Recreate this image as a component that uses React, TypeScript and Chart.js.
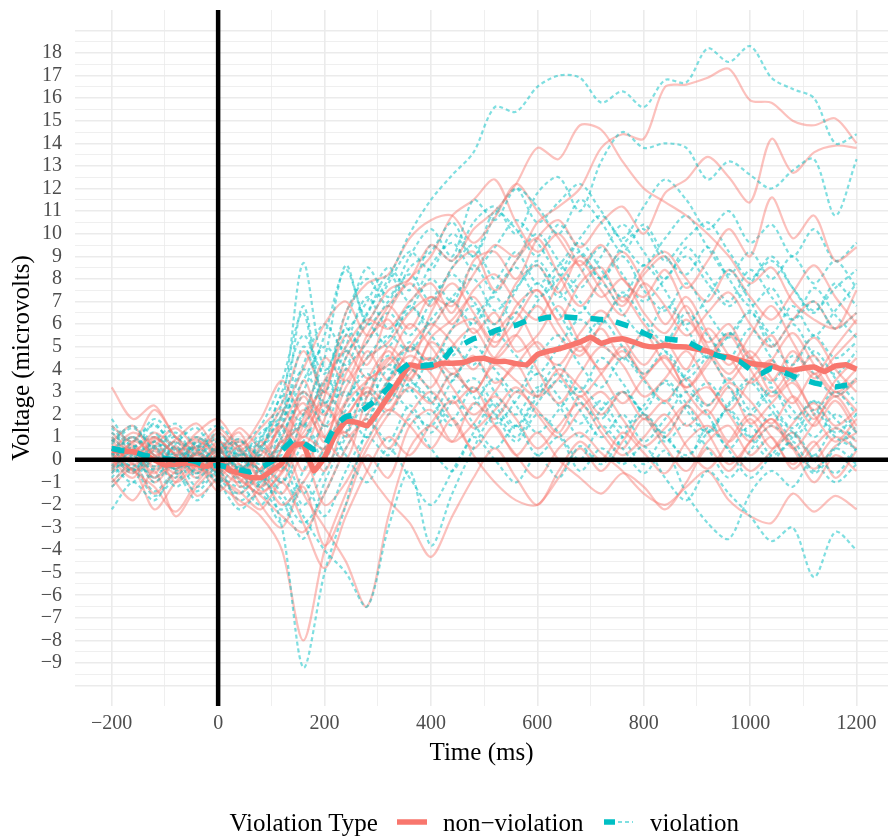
import React, { useEffect, useRef } from "react";
import { Chart, registerables } from "chart.js";
Chart.register(...registerables);

// ---------- DATA ----------
const TIME = [-200, -160, -120, -80, -40, 0, 40, 80, 120, 160, 200, 240, 280, 320, 360, 400, 440, 480, 520, 560, 600, 640, 680, 720, 760, 800, 840, 880, 920, 960, 1000, 1040, 1080, 1120, 1160, 1200];

const TIME_MEAN = [-200, -180, -160, -140, -120, -100, -80, -60, -40, -20, 0, 20, 40, 60, 80, 100, 120, 140, 160, 180, 200, 220, 240, 260, 280, 300, 320, 340, 360, 380, 400, 420, 440, 460, 480, 500, 520, 540, 560, 580, 600, 620, 640, 660, 680, 700, 720, 740, 760, 780, 800, 820, 840, 860, 880, 900, 920, 940, 960, 980, 1000, 1020, 1040, 1060, 1080, 1100, 1120, 1140, 1160, 1180, 1200];

const MEAN_NONVIOLATION = [0.42, 0.38, 0.35, 0.2, 0.0, -0.24, -0.2, -0.15, -0.2, -0.3, -0.05, -0.45, -0.6, -0.78, -0.8, -0.5, -0.15, 0.6, 0.7, -0.5, 0.1, 1.1, 1.7, 1.65, 1.5, 2.1, 2.8, 3.5, 4.2, 4.1, 4.1, 4.27, 4.27, 4.3, 4.45, 4.49, 4.35, 4.35, 4.25, 4.2, 4.65, 4.8, 4.9, 5.05, 5.2, 5.42, 5.15, 5.3, 5.35, 5.21, 5.05, 4.99, 5.06, 5.0, 4.99, 4.9, 4.8, 4.6, 4.55, 4.4, 4.27, 4.2, 4.15, 4.0, 3.96, 4.05, 4.1, 3.9, 4.15, 4.2, 4.0];

const MEAN_VIOLATION = [0.5, 0.4, 0.35, 0.2, 0.1, 0.05, 0.0, 0.0, -0.1, -0.3, -0.24, -0.35, -0.45, -0.54, -0.35, -0.1, 0.4, 0.86, 0.75, 0.45, 0.6, 1.5, 1.9, 2.0, 2.34, 2.7, 3.2, 3.9, 4.27, 4.15, 4.2, 4.33, 4.9, 5.1, 5.35, 5.5, 5.7, 5.85, 5.95, 6.15, 6.2, 6.3, 6.32, 6.3, 6.27, 6.25, 6.2, 6.15, 6.0, 5.85, 5.6, 5.4, 5.35, 5.3, 5.25, 5.0, 4.77, 4.6, 4.45, 4.35, 4.0, 3.8, 4.05, 3.9, 3.7, 3.55, 3.4, 3.3, 3.22, 3.3, 3.38];

// individual participants, non-violation
const NV_S01 = [1.0, 0.3, 1.2, 0.5, -0.3, 0.4, -0.5, 0.2, 1.5, 3.0, 2.0, 4.5, 6.0, 7.5, 8.0, 9.5, 8.8, 10.2, 11.0, 12.2, 13.8, 13.3, 14.8, 14.6, 13.2, 12.0, 11.4, 10.8, 10.0, 9.0, 7.8, 8.5, 7.0, 6.2, 5.8, 6.5];
const NV_S02 = [-0.5, 0.8, 0.2, -0.6, 0.3, -0.2, 0.6, -0.8, 0.5, 2.2, 1.0, 3.2, 4.5, 5.2, 6.5, 7.2, 6.8, 8.2, 9.5, 9.0, 10.5, 11.2, 12.0, 13.8, 14.4, 14.2, 16.5, 16.6, 16.9, 17.3, 15.9, 15.8, 15.0, 14.8, 15.1, 14.0];
const NV_S03 = [0.5, -0.4, 0.9, 0.2, -0.8, 0.6, -1.2, -0.4, 0.8, 1.6, 3.5, 5.0, 6.2, 5.8, 7.0, 7.8, 6.5, 8.8, 9.2, 8.0, 9.8, 10.6, 9.4, 10.5, 11.2, 10.0, 11.8, 12.4, 13.4, 12.5, 11.4, 14.2, 12.7, 13.6, 13.9, 13.8];
const NV_S04 = [1.5, 0.8, 2.2, 1.0, 0.2, 1.2, 0.4, 1.4, 2.5, 4.8, 3.0, 6.5, 7.8, 8.2, 9.8, 10.6, 10.8, 9.6, 10.7, 12.2, 11.0, 9.8, 8.6, 9.5, 8.0, 7.2, 8.4, 6.6, 5.2, 6.0, 4.5, 5.5, 3.8, 4.6, 3.2, 4.0];
const NV_S05 = [-0.3, 0.5, -0.8, 0.1, 0.9, 0.0, -0.8, -1.5, -0.5, 1.0, 0.5, 2.5, 3.5, 4.2, 5.0, 4.4, 5.8, 6.2, 5.0, 6.8, 7.5, 6.2, 7.8, 8.5, 7.0, 8.2, 9.0, 7.6, 8.8, 10.2, 9.0, 11.6, 9.8, 10.8, 8.8, 9.4];
const NV_S06 = [0.2, -0.6, 0.4, -1.0, -0.3, -1.1, -1.8, -2.5, -4.0, -8.0, -4.0, -1.5, 0.5, 2.0, 3.2, 2.5, 3.8, 3.0, 4.2, 3.5, 2.8, 4.0, 3.2, 2.0, 3.0, 1.8, 2.6, 1.5, 2.2, 0.8, 1.8, 0.5, 1.2, 0.0, 1.0, 0.5];
const NV_S07 = [0.8, 1.5, 0.2, 0.9, 1.6, 0.5, 1.2, -0.5, 0.8, -1.5, -3.0, -4.5, -6.5, -2.5, 0.5, 1.5, 0.8, 2.5, 1.8, 3.0, 2.2, 1.2, 2.8, 1.5, 0.5, 1.8, 0.6, -0.5, 0.8, 1.5, 0.2, 1.0, -0.4, 0.6, 1.4, 0.8];
const NV_S08 = [-1.0, -0.2, -1.5, -0.5, 0.2, -0.6, -1.5, -0.8, -2.0, -1.0, 0.5, 1.2, -0.5, -1.8, -2.8, -4.3, -2.5, -0.8, 0.5, -0.8, -2.0, -0.5, 0.8, 0.0, 1.2, 0.3, -0.6, 0.8, 1.5, 0.6, -0.5, 0.4, 1.6, 2.5, 1.5, 2.2];
const NV_S09 = [0.3, -0.5, -1.2, -2.3, -1.0, -0.2, -0.9, -1.6, -2.5, -3.2, -1.5, 0.5, 2.0, 3.5, 4.6, 3.8, 2.5, 3.2, 1.5, 0.2, -0.8, 0.5, 1.2, 0.3, -0.5, -1.5, -2.0, -1.2, -0.5, -1.8, -2.5, -2.8, -1.5, -2.3, -1.6, -2.2];
const NV_S10 = [3.2, 1.8, 2.4, 1.0, 0.5, 1.4, 0.6, 1.8, 3.5, 2.0, 4.5, 3.5, 5.5, 6.8, 5.8, 7.2, 6.0, 7.5, 8.2, 7.0, 6.2, 7.8, 8.8, 7.5, 6.4, 7.8, 6.8, 5.5, 6.5, 7.4, 6.0, 5.0, 6.2, 7.0, 5.8, 7.5];
const NV_S11 = [-0.8, -1.8, -0.5, -2.5, -1.2, -0.4, -2.0, -1.2, 0.5, 2.8, 1.0, 0.0, 2.8, 4.5, 3.5, 5.2, 4.2, 3.0, 4.5, 5.5, 4.0, 2.5, 3.8, 5.0, 4.2, 2.8, 3.6, 4.8, 3.4, 2.2, 3.5, 4.4, 2.8, 1.5, 2.6, 1.2];
const NV_S12 = [0.0, 0.7, -0.3, 0.5, -0.5, 0.2, 0.8, 0.0, 1.5, 0.5, 2.8, 5.5, 4.2, 6.5, 7.8, 6.8, 8.5, 9.2, 7.5, 8.8, 9.8, 8.2, 6.8, 8.0, 9.2, 7.8, 6.0, 7.2, 5.6, 4.2, 5.5, 6.8, 5.2, 3.8, 5.0, 6.2];
const NV_S13 = [1.2, 0.4, 1.0, 0.3, 1.2, 1.8, 0.5, -0.5, -1.5, 0.2, -2.0, -1.0, 0.8, 2.2, 1.5, 0.5, 1.8, 0.2, -1.0, -1.8, -2.0, -0.8, 0.5, -0.5, 0.8, 2.0, 1.0, 2.5, 3.2, 2.0, 0.8, 1.5, 0.5, -1.0, 0.2, -0.5];
const NV_S14 = [0.6, 0.0, 0.8, -0.2, 0.6, -0.3, -1.0, 0.4, -0.5, 1.8, 3.0, 2.0, 3.2, 2.5, 4.0, 3.2, 5.0, 5.8, 4.5, 5.5, 6.8, 5.5, 4.6, 6.0, 7.2, 6.0, 5.0, 6.2, 4.8, 3.5, 4.5, 3.0, 4.2, 5.4, 4.0, 3.0];
const NV_S15 = [-0.4, 0.4, -0.6, 0.6, -0.4, 0.8, -0.2, -1.2, -0.2, 1.2, 2.4, 1.0, 1.8, 0.5, 2.0, 3.0, 1.8, 0.5, 1.5, 0.2, 1.2, 0.0, -0.8, -1.5, -0.6, -1.2, -2.2, -1.0, 0.5, -0.5, 0.8, 1.8, 0.5, 1.6, 2.8, 1.5];
const NV_S16 = [0.2, 1.0, 0.0, -0.8, 0.4, -0.6, 0.3, -0.4, 2.0, 4.0, 6.0, 7.0, 5.5, 6.2, 4.8, 5.8, 7.0, 5.6, 6.5, 4.8, 5.5, 6.8, 5.2, 4.0, 5.0, 3.8, 4.6, 3.2, 4.2, 5.5, 4.0, 2.8, 3.6, 2.2, 3.5, 4.5];
const NV_S17 = [0.9, -0.2, 0.6, 1.4, 0.4, -0.5, 0.2, -0.8, 1.0, 2.5, 0.8, 3.8, 5.2, 6.8, 8.0, 9.0, 10.8, 11.5, 12.4, 10.5, 9.2, 10.0, 8.5, 7.2, 8.0, 6.5, 5.6, 6.8, 5.0, 3.8, 4.8, 3.6, 2.5, 3.8, 2.8, 3.5];
const NV_S18 = [-0.6, 0.2, -1.0, -0.2, -1.6, -0.8, -0.2, -1.4, -0.6, 0.8, -0.5, 1.8, 3.0, 2.2, 3.8, 4.5, 3.2, 2.0, 3.0, 4.2, 2.8, 3.6, 5.0, 3.8, 2.5, 3.6, 4.5, 3.0, 2.0, 3.2, 1.6, 2.5, 3.4, 2.0, 0.8, 1.8];
const NV_S19 = [0.4, 1.2, 0.6, -0.4, 0.8, 0.2, -0.6, 0.8, -0.3, 3.5, 1.5, 2.6, 4.8, 3.5, 5.0, 6.0, 5.2, 4.0, 5.5, 6.5, 5.0, 4.2, 5.6, 6.6, 5.4, 4.2, 5.2, 4.0, 5.8, 4.6, 3.4, 4.4, 5.6, 4.2, 3.0, 3.6];
const NV_S20 = [-1.2, -0.4, -2.2, -1.0, -0.2, -1.4, -0.6, -2.0, -3.0, -1.2, -3.8, -2.0, 0.2, -0.8, 1.5, 2.2, 0.8, 1.6, 2.8, 1.8, 0.5, 1.5, 2.5, 1.2, 0.2, 1.0, 2.0, 0.6, -0.4, 0.8, 2.0, 1.0, -0.2, 0.8, -0.8, 0.4];
const NV_S21 = [0.0, -0.8, 0.5, -0.4, 0.3, 0.9, -0.4, 0.6, 1.5, -0.5, 1.8, 4.0, 2.8, 5.0, 4.2, 6.5, 7.8, 6.5, 5.2, 6.2, 7.5, 6.0, 4.8, 5.8, 4.5, 5.6, 4.2, 3.2, 4.4, 5.6, 4.6, 3.5, 4.8, 3.6, 4.6, 5.6];
const NV_S22 = [0.7, -0.1, 1.0, 0.2, -0.6, 0.3, 0.9, 0.0, -1.0, 1.5, 2.5, 1.2, 3.5, 4.8, 3.6, 5.4, 6.2, 7.2, 6.0, 7.8, 8.6, 7.4, 9.0, 8.0, 6.8, 8.4, 9.2, 8.0, 7.0, 8.4, 7.2, 6.2, 7.4, 8.6, 7.2, 6.0];
const NV_S23 = [0.3, -0.5, 0.0, 0.8, -0.2, -0.8, -1.4, -2.2, -1.0, -2.8, -4.8, -2.5, -0.5, 1.0, 0.2, 1.6, 2.6, 1.4, 2.2, 3.2, 2.0, 1.0, 2.2, 3.0, 1.8, 0.6, 1.4, 2.4, 1.2, -0.2, 0.8, 1.8, 0.6, -0.4, 0.6, 1.2];
const NV_S24 = [-0.2, 0.6, -0.4, 0.2, 1.0, 0.4, 1.4, 0.6, 2.2, 1.0, 3.2, 4.8, 3.6, 4.4, 6.0, 5.0, 3.8, 4.6, 3.4, 4.2, 5.2, 3.8, 2.8, 3.8, 4.8, 3.6, 2.6, 3.6, 2.4, 3.4, 2.6, 1.6, 2.8, 1.8, 3.0, 2.2];

// individual participants, violation
const V_S01 = [0.8, 1.5, 0.5, 1.2, 0.2, 0.8, -0.5, 0.5, 2.0, 4.0, 2.5, 4.5, 6.5, 8.0, 10.0, 11.5, 12.6, 13.6, 15.6, 15.4, 16.5, 17.0, 16.9, 15.8, 16.3, 15.6, 16.8, 16.7, 18.2, 17.6, 18.3, 16.9, 16.4, 16.0, 14.0, 14.4];
const V_S02 = [-0.6, 0.4, -0.3, 0.6, -0.8, 0.2, 0.9, -0.5, 1.5, 5.0, 3.0, 5.5, 7.0, 8.5, 7.5, 9.5, 8.8, 10.5, 11.2, 10.0, 11.8, 12.5, 11.0, 13.2, 14.5, 13.8, 14.0, 13.8, 12.4, 13.2, 12.6, 12.0, 12.8, 13.3, 10.8, 13.3];
const V_S03 = [0.3, -0.5, 0.8, 0.0, 0.6, -0.4, 0.2, 1.0, 2.5, 8.7, 4.0, 6.0, 8.5, 7.2, 9.0, 10.2, 9.0, 11.5, 10.6, 12.0, 11.2, 10.0, 11.5, 10.5, 9.2, 10.4, 9.0, 8.2, 9.4, 8.0, 6.8, 7.6, 6.2, 7.0, 5.8, 6.5];
const V_S04 = [1.2, 0.5, 1.6, 0.4, 1.0, 0.2, -0.6, 0.6, -0.4, 2.0, 4.5, 8.6, 6.0, 7.0, 8.2, 7.0, 8.5, 9.5, 8.0, 9.2, 7.8, 8.6, 9.6, 8.4, 7.2, 8.6, 7.5, 6.0, 7.2, 8.4, 7.0, 5.6, 6.8, 5.5, 6.6, 7.8];
const V_S05 = [0.5, -0.3, 0.6, -0.5, 0.3, -0.8, -1.5, -0.6, -3.0, -9.2, -5.0, -2.0, 1.5, 3.5, 5.0, 4.2, 5.8, 6.8, 5.5, 6.5, 7.8, 6.5, 5.2, 6.2, 5.0, 3.8, 4.8, 3.5, 2.4, 3.6, 2.2, 3.2, 1.8, 2.6, 1.2, 2.0];
const V_S06 = [-0.8, 0.2, -1.0, 0.0, -1.2, -0.3, -1.0, -2.0, -0.8, -2.5, -4.0, -5.0, -6.5, -3.0, -0.5, -3.8, -1.5, 0.5, 2.0, 1.0, 2.5, 3.5, 2.2, 1.0, 2.0, 0.8, 1.8, 3.0, 2.0, 0.5, 1.5, 0.2, 1.0, 2.2, 1.0, 0.5];
const V_S07 = [-2.2, -1.0, -1.8, -0.6, -1.4, -0.5, -1.8, -1.0, 0.5, 1.5, 0.0, 2.5, 3.8, 2.6, 4.0, 3.0, 1.8, 3.2, 2.0, 0.8, 2.0, 1.2, 0.0, 1.5, 0.5, -0.6, 0.4, -1.5, -2.8, -3.5, -1.5, -0.5, -1.2, 0.2, -0.6, 0.5];
const V_S08 = [0.2, 1.0, 0.0, 0.8, -0.2, 0.6, 0.0, -1.0, 0.2, -1.5, 0.5, 2.0, 1.0, 3.0, 2.2, 1.5, 2.8, 1.6, 0.5, 1.5, 0.2, 1.0, -0.5, 0.5, -0.2, 0.6, -0.8, -1.8, -0.5, -1.5, -2.5, -3.6, -3.0, -5.2, -3.2, -4.0];
const V_S09 = [0.0, 0.8, 1.5, 0.5, -0.2, 0.5, -0.3, 0.8, 1.8, 3.5, 5.0, 4.2, 6.0, 5.0, 6.8, 5.5, 4.6, 6.2, 7.2, 6.0, 7.0, 8.2, 7.0, 6.0, 7.4, 6.2, 5.2, 6.5, 5.5, 4.5, 5.8, 4.5, 3.5, 4.8, 3.6, 2.5];
const V_S10 = [1.8, 0.6, 1.2, 0.0, 0.8, 1.5, 0.5, -0.5, 1.0, 3.0, 1.5, 3.5, 2.5, 4.0, 3.0, 4.5, 3.5, 5.0, 4.0, 3.0, 4.5, 5.5, 4.2, 3.2, 4.5, 3.5, 2.5, 3.8, 4.6, 3.2, 2.0, 3.0, 2.2, 1.0, 2.0, 1.2];
const V_S11 = [-0.4, 0.3, -0.8, 0.2, -0.6, 0.4, -0.4, 0.3, 2.8, 1.5, 3.5, 2.8, 4.5, 5.5, 4.8, 6.2, 7.0, 6.0, 7.5, 8.5, 7.2, 8.0, 9.2, 8.0, 9.5, 10.2, 8.8, 9.8, 10.5, 9.2, 8.0, 9.0, 7.6, 6.5, 7.8, 6.8];
const V_S12 = [0.6, -0.4, 0.2, -1.2, -0.4, -1.0, -2.2, -1.5, -2.8, -1.0, -2.5, -0.5, 1.0, 0.2, 1.8, 0.5, -0.5, 1.0, 0.0, -1.0, 0.2, -0.8, 0.6, -0.2, 1.0, 2.0, 1.0, 0.2, 1.2, 2.2, 1.0, 0.0, 0.8, -0.5, 0.5, -0.2];
const V_S13 = [0.9, 0.2, -0.4, 0.7, 1.4, 0.0, 0.6, 1.5, 3.5, 6.5, 2.0, 4.0, 5.2, 6.5, 5.5, 7.0, 8.2, 7.0, 6.0, 7.5, 8.8, 7.5, 6.5, 7.8, 6.5, 5.5, 6.8, 5.8, 4.5, 5.5, 6.5, 5.2, 4.2, 5.5, 4.5, 5.2];
const V_S14 = [-0.2, -1.0, 0.4, -0.4, 0.5, -0.6, 0.4, -0.8, -1.8, -3.5, -1.0, 1.0, 2.8, 4.2, 3.2, 2.0, 3.5, 4.5, 3.0, 2.0, 3.2, 2.4, 1.0, 2.2, 3.0, 2.0, 0.8, 1.6, 0.5, -0.8, 0.4, 1.5, 0.6, -0.6, 0.5, 1.5];
const V_S15 = [1.5, 0.8, 1.8, 1.0, 0.4, 1.2, 0.2, 0.9, 3.0, 5.5, 3.8, 6.5, 8.0, 6.8, 8.5, 9.2, 10.5, 9.0, 11.0, 10.2, 9.0, 10.4, 9.2, 8.0, 9.0, 7.5, 6.6, 7.8, 6.5, 5.4, 6.6, 5.0, 6.0, 4.6, 3.8, 4.8];
const V_S16 = [-1.2, -0.4, -1.6, -0.8, 0.0, -1.0, -0.3, -1.2, -2.2, -0.5, 1.5, 0.2, -1.0, 0.5, -0.8, -2.0, -0.5, 1.2, 2.5, 1.5, 3.0, 4.2, 3.0, 4.5, 3.4, 2.2, 3.5, 2.5, 1.2, 2.5, 3.6, 2.5, 1.4, 2.6, 1.8, 0.8];
const V_S17 = [0.4, 1.0, 0.2, -0.4, 0.6, 0.0, 0.8, 0.2, 1.2, 3.0, 5.5, 8.4, 6.2, 7.8, 9.2, 8.4, 10.0, 9.0, 10.8, 12.0, 10.5, 11.4, 12.2, 11.0, 9.8, 11.2, 12.4, 11.5, 10.2, 11.0, 9.6, 10.4, 9.0, 10.2, 8.8, 9.6];
const V_S18 = [-0.5, 0.1, -0.8, 0.4, -0.2, 0.5, -0.4, 0.2, -1.0, 0.8, 2.2, 3.0, 2.0, 3.6, 5.2, 4.0, 5.0, 4.2, 5.6, 4.6, 3.8, 5.0, 6.2, 5.2, 4.4, 5.6, 4.8, 3.6, 4.6, 5.6, 4.4, 3.4, 4.6, 3.8, 2.8, 3.6];
const V_S19 = [1.0, 0.3, 0.8, 1.6, 0.6, 0.9, 0.2, 1.2, 2.0, 6.8, 2.5, 5.0, 7.2, 5.8, 6.6, 8.0, 7.0, 8.6, 7.4, 8.8, 10.0, 8.8, 7.6, 9.0, 10.4, 9.2, 8.0, 9.4, 8.2, 7.0, 8.4, 7.2, 6.2, 7.6, 6.4, 5.4];
const V_S20 = [-1.0, -0.2, -1.4, -0.6, -1.8, -0.8, -1.2, -0.5, -1.5, -2.8, -1.5, 0.5, 1.8, 0.8, 2.4, 1.2, 2.6, 3.6, 2.4, 1.4, 2.8, 3.8, 2.6, 1.8, 3.0, 2.0, 1.2, 2.4, 3.4, 2.2, 1.0, 2.0, 1.2, 0.2, 1.4, 0.4];
const V_S21 = [0.2, -0.6, 0.6, 0.0, 0.8, -0.2, 0.4, -0.2, 0.8, 2.0, 3.4, 5.8, 4.6, 5.4, 6.8, 6.0, 7.2, 8.0, 6.6, 7.6, 8.6, 7.2, 8.2, 9.4, 8.2, 7.0, 8.0, 9.0, 7.8, 6.8, 7.8, 8.8, 7.6, 6.6, 7.6, 8.4];
const V_S22 = [0.7, 1.4, 0.5, 1.0, 0.0, 0.4, -0.6, -1.2, -0.2, -2.0, -0.5, 1.2, 3.0, 2.0, 3.4, 2.6, 1.5, 2.4, 3.6, 2.4, 1.2, 2.2, 3.2, 2.2, 1.0, -0.2, 1.0, 0.0, 1.4, 0.4, -0.8, 0.2, 1.2, 0.0, -1.0, -0.2];
const V_S23 = [-0.3, 0.5, -0.5, 0.3, -0.6, 0.2, -0.8, 0.5, 1.5, 4.2, 6.0, 4.8, 6.4, 8.2, 7.0, 8.6, 9.6, 8.4, 9.4, 10.6, 9.6, 8.4, 9.8, 10.8, 9.6, 8.6, 9.8, 10.8, 9.4, 8.2, 9.2, 8.0, 9.0, 7.8, 8.8, 7.6];
const V_S24 = [1.4, 0.6, 1.0, 0.2, 0.6, 1.0, 0.4, -0.4, 0.6, 1.6, 0.4, 2.2, 3.4, 4.6, 3.6, 2.6, 3.8, 2.8, 1.6, 2.6, 3.8, 2.8, 1.6, 2.6, 1.4, 2.4, 3.4, 2.2, 1.2, 2.4, 3.4, 2.2, 1.0, 2.0, 3.0, 2.0];

const NV_SUBJECTS = [NV_S01, NV_S02, NV_S03, NV_S04, NV_S05, NV_S06, NV_S07, NV_S08, NV_S09, NV_S10, NV_S11, NV_S12, NV_S13, NV_S14, NV_S15, NV_S16, NV_S17, NV_S18, NV_S19, NV_S20, NV_S21, NV_S22, NV_S23, NV_S24];
const V_SUBJECTS = [V_S01, V_S02, V_S03, V_S04, V_S05, V_S06, V_S07, V_S08, V_S09, V_S10, V_S11, V_S12, V_S13, V_S14, V_S15, V_S16, V_S17, V_S18, V_S19, V_S20, V_S21, V_S22, V_S23, V_S24];

const X_TICK_LABEL_STEP = 200;
const Y_LABEL_MIN = -9;
const Y_LABEL_MAX = 18;
const Y_GRID_MIN = -10;
const Y_GRID_MAX = 19;

// ---------- STYLE ----------
const RED = "#F8766D";
const CYAN = "#00BFC4";
const RED_FAINT = "rgba(248,118,109,0.45)";
const CYAN_FAINT = "rgba(0,191,196,0.5)";
const FONT = '"Liberation Serif", "Times New Roman", serif';

const fmt = (v: number) => (v < 0 ? "\u2212" + Math.abs(v) : String(v));
const toPoints = (xs: number[], ys: number[]) => xs.map((x, i) => ({ x, y: ys[i] }));

const zeroLines = {
  id: "zeroLines",
  afterDatasetsDraw(chart: any) {
    const { ctx, chartArea, scales } = chart;
    const x0 = scales.x.getPixelForValue(0);
    const y0 = scales.y.getPixelForValue(0);
    ctx.save();
    ctx.strokeStyle = "#000";
    ctx.lineWidth = 4.5;
    ctx.beginPath();
    ctx.moveTo(x0, chartArea.top);
    ctx.lineTo(x0, chartArea.bottom);
    ctx.moveTo(chartArea.left, y0);
    ctx.lineTo(chartArea.right, y0);
    ctx.stroke();
    ctx.restore();
  },
};

export default function App() {
  const ref = useRef<HTMLCanvasElement>(null);

  useEffect(() => {
    document.body.style.margin = "0";
    const datasets: any[] = [];
    datasets.push({
      label: "violation",
      data: toPoints(TIME_MEAN, MEAN_VIOLATION),
      borderColor: CYAN,
      borderWidth: 5.5,
      borderDash: [13, 13],
      pointRadius: 0,
      tension: 0.1,
      order: 0,
    });
    datasets.push({
      label: "non-violation",
      data: toPoints(TIME_MEAN, MEAN_NONVIOLATION),
      borderColor: RED,
      borderWidth: 5.5,
      pointRadius: 0,
      tension: 0.1,
      order: 1,
    });
    for (let i = 0; i < NV_SUBJECTS.length; i++) {
      datasets.push({
        label: "v" + i,
        data: toPoints(TIME, V_SUBJECTS[i]),
        borderColor: CYAN_FAINT,
        borderWidth: 2.2,
        borderDash: [4, 3],
        pointRadius: 0,
        tension: 0.3,
        order: 2,
      });
      datasets.push({
        label: "nv" + i,
        data: toPoints(TIME, NV_SUBJECTS[i]),
        borderColor: RED_FAINT,
        borderWidth: 2.2,
        pointRadius: 0,
        tension: 0.3,
        order: 2,
      });
    }

    const chart = new Chart(ref.current as HTMLCanvasElement, {
      type: "line",
      data: { datasets },
      plugins: [zeroLines],
      options: {
        animation: false,
        responsive: false,
        maintainAspectRatio: false,
        events: [],
        layout: { padding: { top: 10, right: 0, bottom: 69, left: 0 } },
        plugins: { legend: { display: false }, tooltip: { enabled: false } },
        scales: {
          x: {
            type: "linear",
            min: -269,
            max: 1259,
            border: { display: false },
            grid: {
              drawTicks: false,
              color: "#EBEBEB",
              lineWidth: (c: any) => (c.tick && c.tick.value % X_TICK_LABEL_STEP === 0 ? 1.6 : 0.8),
            },
            ticks: {
              stepSize: 100,
              autoSkip: false,
              maxRotation: 0,
              includeBounds: false,
              padding: 6,
              color: "#4D4D4D",
              font: { family: FONT, size: 20 },
              callback: (v: any) => (Number(v) % X_TICK_LABEL_STEP === 0 ? fmt(Number(v)) : ""),
            },
            title: {
              display: true,
              text: "Time (ms)",
              color: "#000",
              font: { family: FONT, size: 25, lineHeight: 1.2 },
              padding: { top: 0, bottom: 0 },
            },
            afterFit: (s: any) => {
              s.height = 62;
              s.paddingLeft = 0;
              s.paddingRight = 0;
            },
          },
          y: {
            type: "linear",
            min: -10.9,
            max: 19.9,
            border: { display: false },
            grid: {
              drawTicks: false,
              color: "#EBEBEB",
              lineWidth: (c: any) => (c.tick && Number.isInteger(c.tick.value) ? 1.6 : 0.8),
            },
            ticks: {
              stepSize: 0.5,
              autoSkip: false,
              includeBounds: false,
              padding: 13,
              color: "#4D4D4D",
              font: { family: FONT, size: 20 },
              callback: (val: any) => {
                const v = Number(val);
                if (v < Y_GRID_MIN - 1e-9 || v > Y_GRID_MAX + 1e-9) return null;
                if (Number.isInteger(v) && v >= Y_LABEL_MIN && v <= Y_LABEL_MAX) return fmt(v);
                return "";
              },
            },
            title: {
              display: true,
              text: "Voltage (microvolts)",
              color: "#000",
              font: { family: FONT, size: 25, lineHeight: 1.2 },
              padding: { top: 7, bottom: 0 },
            },
            afterFit: (s: any) => {
              s.width = 75;
              s.paddingTop = 0;
              s.paddingBottom = 0;
            },
          },
        },
      } as any,
    });
    return () => chart.destroy();
  }, []);

  const textStyle = (left: number): React.CSSProperties => ({
    position: "absolute",
    left,
    top: 807.5,
    fontFamily: FONT,
    fontSize: 25,
    lineHeight: "30px",
    color: "#000",
    whiteSpace: "nowrap",
  });

  return (
    <div style={{ position: "relative", width: 888, height: 837, background: "#fff" }}>
      <canvas
        ref={ref}
        width={888}
        height={837}
        style={{ position: "absolute", left: 0, top: 0, width: 888, height: 837 }}
      />
      <span style={textStyle(229.5)}>Violation Type</span>
      <svg style={{ position: "absolute", left: 396.5, top: 816 }} width={30} height={12}>
        <line x1={0} y1={6} x2={30} y2={6} stroke={RED_FAINT} strokeWidth={2.2} />
        <line x1={0} y1={6} x2={30} y2={6} stroke={RED} strokeWidth={5.5} />
      </svg>
      <span style={textStyle(443)}>non−violation</span>
      <svg style={{ position: "absolute", left: 603.5, top: 816 }} width={29} height={12}>
        <line x1={0} y1={6} x2={29} y2={6} stroke={CYAN_FAINT} strokeWidth={2.2} strokeDasharray="4 3" />
        <line x1={0} y1={6} x2={29} y2={6} stroke={CYAN} strokeWidth={5.5} strokeDasharray="11 40" />
      </svg>
      <span style={textStyle(650)}>violation</span>
    </div>
  );
}
